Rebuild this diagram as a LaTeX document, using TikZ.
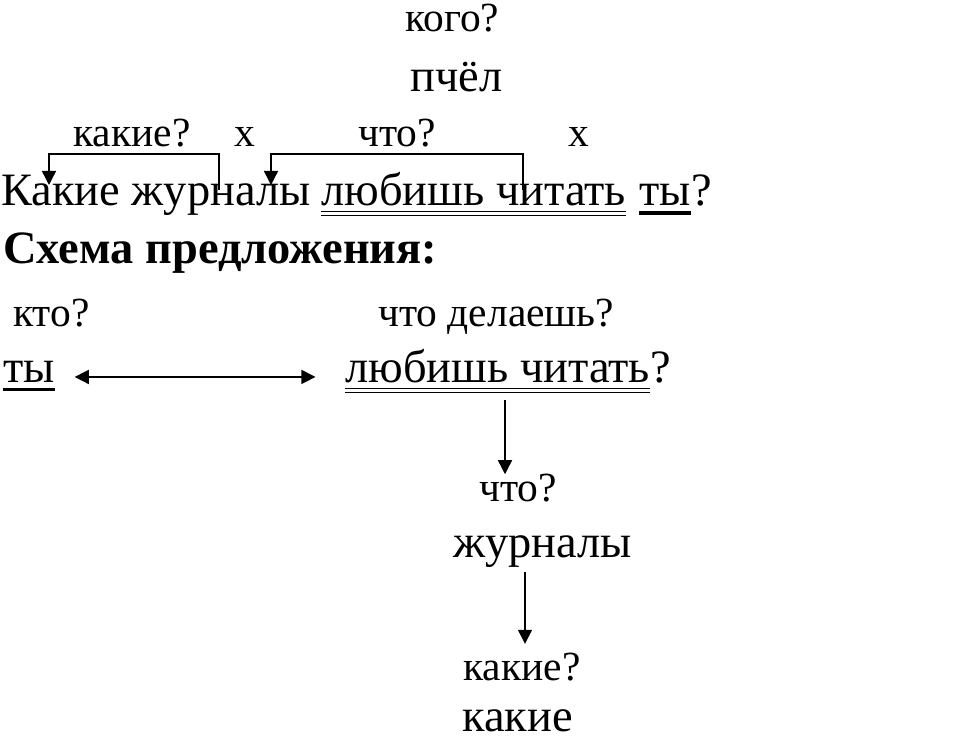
\documentclass[tikz,border=0pt]{standalone}
\usepackage{fontspec}
\setmainfont{Liberation Serif}
\usetikzlibrary{arrows.meta}

\newcommand{\wordsize}{\fontsize{33}{36}\selectfont}
\newcommand{\questsize}{\fontsize{29.5}{32}\selectfont}

\tikzset{
  word/.style={font=\wordsize, inner sep=0pt, anchor=base west},
  quest/.style={font=\questsize, inner sep=0pt, anchor=base west},
  head/.style={font=\wordsize\bfseries, inner sep=0pt, anchor=base west},
  arrow/.style={line width=1pt, -{Triangle[length=10pt,width=10pt]}},
  subj/.style={line width=2.2pt},
  pred/.style={line width=1pt, double, double distance=1.9pt}
}

\begin{document}
\begin{tikzpicture}[x=0.025cm,y=-0.025cm]
    \useasboundingbox (0,0) rectangle (960,740);

    % Dependent word above
    \node[quest] (kogo) at (405,32) {кого?};
    \node[word] (pchel) at (410,92) {пчёл};

    % Questions over the sentence
    \node[quest] (kakieq) at (73,147) {какие?};
    \node[quest] (x1) at (234,147) {х};
    \node[quest] (chtoq) at (358,147) {что?};
    \node[quest] (x2) at (568,147) {х};

    % Sentence
    \node[word] (kakie) at (1,206) {Какие журналы};
    \node[word] (lubit) at (321,206) {любишь читать};
    \node[word] (ty) at (639,206) {ты};
    \node[word] (qmark) at (ty.base east) {?};

    \draw[pred] ([yshift=-5.5pt]lubit.base west) -- ([yshift=-5.5pt]lubit.base east);
    \draw[subj] ([yshift=-5pt]ty.base west) -- ([yshift=-5pt]ty.base east);

    % Brackets
    \coordinate (zhurn) at (219,190);
    \coordinate (kak) at (49,185);
    \draw[arrow] (zhurn) -- ++(0,-36) -| (kak);

    \coordinate (chit) at (523,190);
    \coordinate (lub) at (271,185);
    \draw[arrow] (chit) -- ++(0,-36) -| (lub);

    % Scheme
    \node[head] (schema) at (3,264) {Схема предложения:};

    \node[quest] (ktoq) at (13,327) {кто?};
    \node[quest] (chtodel) at (378,327) {что делаешь?};

    \node[word] (ty2) at (3,383) {ты};
    \node[word] (lubit2) at (345,383) {любишь читать};
    \node[word] (qmark2) at (lubit2.base east) {?};

    \draw[subj] ([yshift=-4.5pt]ty2.base west) -- ([yshift=-4.5pt]ty2.base east);
    \draw[pred] ([yshift=-5.5pt]lubit2.base west) -- ([yshift=-5.5pt]lubit2.base east);

    \draw[line width=1pt, {Triangle[length=10pt,width=10pt]}-{Triangle[length=10pt,width=10pt]},
        shorten <=14pt, shorten >=21pt] ([yshift=2pt]ty2.mid east) -- ([yshift=2pt]lubit2.mid west);

    % Chain downwards
    \node[quest] (chtoq2) at (479,502) {что?};
    \node[word] (zhurnaly) at (453,558) {журналы};
    \node[quest] (kakieq2) at (463,680) {какие?};
    \node[word] (kakie2) at (462,731) {какие};

    \coordinate (v1) at (505,400);
    \draw[arrow] (v1) -- (v1 |- chtoq2.north);

    \coordinate (v2) at (525,572);
    \draw[arrow, shorten >=6pt] (v2) -- (v2 |- kakieq2.north);
\end{tikzpicture}
\end{document}
